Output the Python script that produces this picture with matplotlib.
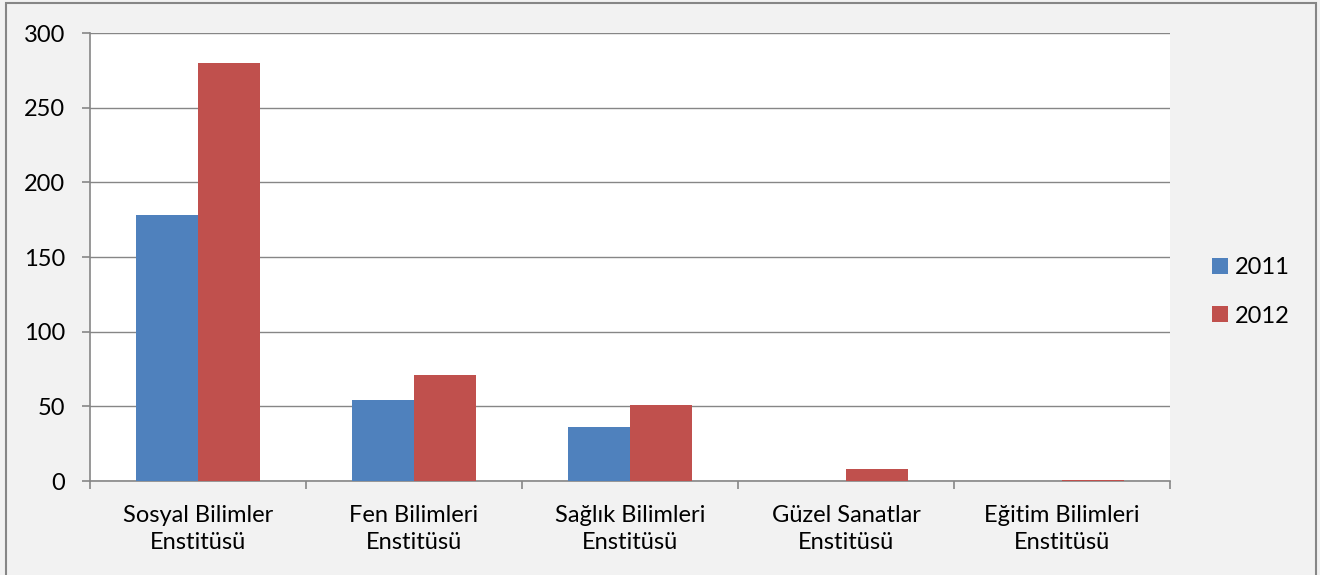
import numpy as np
import matplotlib.pyplot as plt
from matplotlib.patches import Rectangle

categories = ['Sosyal Bilimler\nEnstitüsü', 'Fen Bilimleri\nEnstitüsü', 'Sağlık Bilimleri\nEnstitüsü',
              'Güzel Sanatlar\nEnstitüsü', 'Eğitim Bilimleri\nEnstitüsü']
years = ['2011', '2012']
values_2011 = [178, 54, 36, 0, 0]
values_2012 = [280, 71, 51, 8, 1]
yticks = [0, 50, 100, 150, 200, 250, 300]

plt.rcParams['font.family'] = ['Lato', 'DejaVu Sans']
fs = 17

fig = plt.figure(figsize=(13.2, 5.75), dpi=100, facecolor='#F2F2F2')
# border of the chart area (bottom edge falls outside the picture)
fig.patches.append(Rectangle((6 / 1320, -10 / 575), 1310 / 1320, 582 / 575, transform=fig.transFigure,
                             fill=False, edgecolor='#868686', linewidth=1.5))
ax = fig.add_axes([90 / 1320, 1 - 481 / 575, 1080 / 1320, 448 / 575])
ax.set_facecolor('white')

x = np.arange(len(categories))
w = 1 / 3.5
ax.bar(x - w / 2, values_2011, w, color='#4F81BD', label=years[0], zorder=3)
ax.bar(x + w / 2, values_2012, w, color='#C0504D', label=years[1], zorder=3)

ax.set_xlim(-0.5, len(categories) - 0.5)
ax.set_ylim(0, 300)
ax.set_yticks(yticks)
ax.yaxis.grid(True, color='#868686', linewidth=1, zorder=0)
ax.set_xticks(x)
ax.set_xticklabels(categories, fontsize=fs, linespacing=1.35)
ax.set_xticks(np.arange(-0.5, len(categories)), minor=True)
ax.tick_params(axis='x', which='major', length=0, pad=17)
ax.tick_params(axis='x', which='minor', length=6, color='#868686', width=1.2)
ax.tick_params(axis='y', length=6, color='#868686', width=1.2, labelsize=fs, pad=12)

for s in ['top', 'right']:
    ax.spines[s].set_visible(False)
for s in ['left', 'bottom']:
    ax.spines[s].set_color('#868686')
    ax.spines[s].set_linewidth(1.2)

fig.legend(*ax.get_legend_handles_labels(), loc='center left', bbox_to_anchor=(1212 / 1320, 1 - 292 / 575),
           bbox_transform=fig.transFigure, frameon=False, fontsize=fs, borderpad=0, borderaxespad=0,
           handlelength=0.68, handleheight=0.68, handletextpad=0.3, labelspacing=1.15)

fig.savefig('out.png', dpi=100, facecolor=fig.get_facecolor())
